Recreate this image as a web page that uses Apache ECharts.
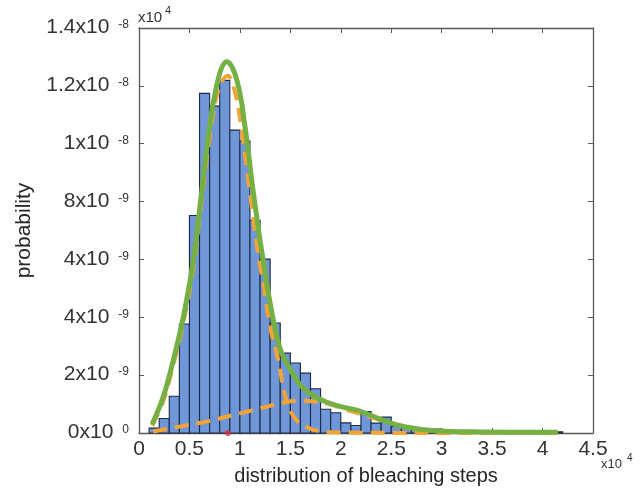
<!DOCTYPE html>
<html>
<head>
<meta charset="utf-8">
<title>bleaching steps</title>
<script src="https://cdn.jsdelivr.net/npm/echarts@6/dist/echarts.min.js"></script>
<style>
  html, body { margin: 0; padding: 0; background: #fff; }
  #chart { width: 643px; height: 491px; }
</style>
</head>
<body>
<div id="chart"></div>
<script>
// x in units of 10^4 steps, y in units of 10^-9
const binEdges = [0.1, 0.2, 0.3, 0.4, 0.5, 0.6, 0.7, 0.8, 0.9, 1.0, 1.1, 1.2, 1.3, 1.4,
  1.5, 1.6, 1.7, 1.8, 1.9, 2.0, 2.1, 2.2, 2.3, 2.4, 2.5, 2.6, 2.7, 2.8, 2.9, 3.0,
  3.1, 3.2, 3.3, 3.4, 3.5, 3.6, 3.7, 3.8, 3.9, 4.0, 4.1, 4.2]
const binValues = [0.17, 0.5, 1.27, 3.77, 7.52, 11.74, 11.3, 12.19, 10.47, 10.09, 7.35,
  6.01, 3.8, 2.76, 2.42, 2.07, 1.53, 0.82, 0.7, 0.35, 0.26, 0.74, 0.34, 0.55, 0.23,
  0.16, 0.09, 0.1, 0.14, 0.04, 0.03, 0.04, 0.02, 0.02, 0.01, 0.02, 0.01, 0.01, 0.02,
  0.01, 0.04]

// fitted curves
const fitTotal = [[0.13, 0.3], [0.24, 1.25], [0.34, 2.52], [0.44, 4.02], [0.54, 6.0],
  [0.62, 8.3], [0.7, 10.6], [0.79, 12.3], [0.87, 12.83], [0.97, 12.2], [1.05, 10.6],
  [1.13, 8.4], [1.22, 6.2], [1.31, 4.3], [1.4, 2.9], [1.5, 2.2], [1.6, 1.65],
  [1.72, 1.3], [1.85, 1.08], [1.99, 0.92], [2.19, 0.76], [2.39, 0.48], [2.59, 0.25],
  [2.78, 0.13], [2.98, 0.07], [3.3, 0.04], [3.7, 0.03], [4.15, 0.03]]
const fitMain = [[0.13, 0.25], [0.24, 1.1], [0.34, 2.35], [0.44, 3.8], [0.54, 5.75],
  [0.62, 8.0], [0.7, 10.2], [0.79, 11.9], [0.88, 12.35], [0.95, 11.8], [1.0, 10.9],
  [1.1, 8.3], [1.18, 6.2], [1.23, 5.2], [1.3, 3.67], [1.38, 2.52], [1.46, 1.14],
  [1.56, 0.45], [1.69, 0.16], [1.83, 0.05], [2.0, 0.02], [3.0, 0], [4.15, 0]]
const fitBroad = [[0.14, 0.05], [0.4, 0.22], [0.7, 0.42], [1.0, 0.68], [1.2, 0.85],
  [1.43, 1.05], [1.6, 1.12], [1.75, 1.08], [1.9, 0.98], [2.1, 0.76], [2.3, 0.55],
  [2.5, 0.33], [2.7, 0.17], [2.9, 0.08], [3.2, 0.03], [4.15, 0.01]]
const meanMark = [[0.88, 0]]

const xTickLabels = ['0', '0.5', '1', '1.5', '2', '2.5', '3', '3.5', '4', '4.5']
const yTickLabels = [['0x10', '0'], ['2x10', '-9'], ['4x10', '-9'], ['4x10', '-9'],
  ['8x10', '-9'], ['1x10', '-8'], ['1.2x10', '-8'], ['1.4x10', '-8']]

const font = 'Liberation Sans, Arial, sans-serif'
const axisColor = '#595959'
const textColor = '#333'
const orange = '#f3a435'
const green = '#74b043'

const chart = echarts.init(document.getElementById('chart'))

const histData = binValues.map(function (v, i) {
  return [binEdges[i], binEdges[i + 1], v]
})

// box axes, ticks pointing inwards
const boxLine = { show: true, onZero: false, lineStyle: { color: axisColor, width: 1.3 } }
const boxTick = { show: true, inside: true, length: 5, lineStyle: { color: axisColor } }

chart.setOption({
  animation: false,
  grid: { left: 139, right: 50, top: 28, bottom: 58 },
  xAxis: [{
    type: 'value',
    min: 0,
    max: 4.5,
    interval: 0.5,
    name: 'distribution of bleaching steps',
    nameLocation: 'middle',
    nameGap: 33,
    nameTextStyle: { fontFamily: font, fontSize: 20, color: '#262626' },
    axisLine: boxLine,
    axisTick: boxTick,
    axisLabel: {
      margin: 6,
      fontFamily: font,
      fontSize: 21,
      color: textColor,
      formatter: function (v) { return xTickLabels[Math.round(v / 0.5)] }
    },
    splitLine: { show: false }
  }, {
    type: 'value',
    position: 'top',
    min: 0,
    max: 4.5,
    interval: 0.5,
    axisLine: boxLine,
    axisTick: boxTick,
    axisLabel: { show: false },
    splitLine: { show: false }
  }],
  yAxis: [{
    type: 'value',
    min: 0,
    max: 14,
    interval: 2,
    name: 'probability',
    nameLocation: 'middle',
    nameGap: 104,
    nameTextStyle: { fontFamily: font, fontSize: 21, color: '#262626' },
    axisLine: boxLine,
    axisTick: boxTick,
    axisLabel: {
      margin: 10,
      formatter: function (v) {
        const t = yTickLabels[Math.round(v / 2)]
        return '{b|' + t[0] + '}{s|' + t[1] + '}'
      },
      rich: {
        b: { fontFamily: font, fontSize: 21, color: textColor, lineHeight: 22, verticalAlign: 'top' },
        s: { fontFamily: font, fontSize: 12, color: textColor, lineHeight: 12, verticalAlign: 'top', padding: [2, 0, 0, 9] }
      }
    },
    splitLine: { show: false }
  }, {
    type: 'value',
    position: 'right',
    min: 0,
    max: 14,
    interval: 2,
    axisLine: boxLine,
    axisTick: boxTick,
    axisLabel: { show: false },
    splitLine: { show: false }
  }],
  graphic: [
    { type: 'text', left: 138, top: 10, style: { text: 'x10', font: '15px ' + font, fill: textColor } },
    { type: 'text', left: 165, top: 5, style: { text: '4', font: '11px ' + font, fill: textColor } },
    { type: 'text', left: 601, top: 458, style: { text: 'x10', font: '13px ' + font, fill: textColor } },
    { type: 'text', left: 627, top: 453, style: { text: '4', font: '10px ' + font, fill: textColor } }
  ],
  series: [{
    type: 'custom',
    data: histData,
    encode: { x: [0, 1], y: 2 },
    renderItem: function (params, api) {
      const p0 = api.coord([api.value(0), api.value(2)])
      const p1 = api.coord([api.value(1), 0])
      return {
        type: 'rect',
        shape: { x: p0[0], y: p0[1], width: p1[0] - p0[0], height: p1[1] - p0[1] },
        style: { fill: '#6f96d6', stroke: '#1b2a48', lineWidth: 1.1 }
      }
    },
    z: 1
  }, {
    type: 'line',
    data: fitBroad,
    smooth: 0.4,
    showSymbol: false,
    clip: false,
    lineStyle: { color: orange, width: 4, type: [14, 8] },
    z: 2
  }, {
    type: 'line',
    data: fitMain,
    smooth: 0.4,
    showSymbol: false,
    clip: false,
    lineStyle: { color: orange, width: 4, type: [14, 8] },
    z: 2
  }, {
    type: 'line',
    data: fitTotal,
    smooth: 0.4,
    showSymbol: false,
    clip: false,
    lineStyle: { color: green, width: 5 },
    z: 3
  }, {
    type: 'scatter',
    data: meanMark,
    symbol: 'circle',
    symbolSize: 6,
    clip: false,
    itemStyle: { color: '#d9303a' },
    z: 4
  }]
})
</script>
</body>
</html>
